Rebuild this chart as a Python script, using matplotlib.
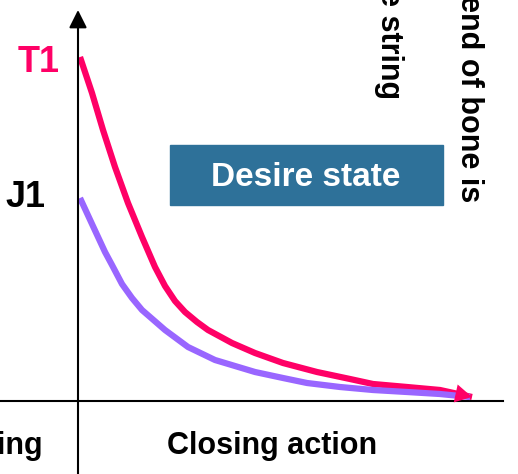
import numpy as np
from matplotlib import pyplot as plt
from matplotlib import font_manager
from matplotlib.patches import Rectangle

# closing action progress (x) and force (y)
t1_x = [2, 14, 25, 37, 50, 64, 77, 87, 97, 107, 119, 130, 154, 177, 205, 239, 272, 295, 329, 362, 394]
t1_y = [344, 308, 271, 234, 198, 164, 134, 115, 100, 89, 79, 71, 58, 48, 38, 29, 22, 17, 14, 11, 4]
j1_x = [2, 14, 27, 34, 44, 54, 64, 87, 110, 137, 177, 205, 229, 262, 295, 329, 362, 392]
j1_y = [203, 177, 149, 136, 117, 103, 91, 71, 54, 41, 29, 23, 18, 14, 11, 9, 7, 4]

pink = '#ff0066'
purple = '#9966ff'
box_col = '#2e7199'

# narrow gothic look if we have it, otherwise plain Liberation Sans a bit smaller
names = {f.name for f in font_manager.fontManager.ttflist}
if 'Liberation Sans Narrow' in names:
    font = ['Liberation Sans Narrow', 'DejaVu Sans']
    big, mid, box_fs = 28, 25, 27
else:
    font = ['Liberation Sans', 'DejaVu Sans']
    big, mid, box_fs = 26, 22, 24

fig = plt.figure(figsize=(5.18, 4.74), dpi=100)
ax = fig.add_axes([0, 0, 1, 1])
ax.set_xlim(-78, 440)
ax.set_ylim(-73, 401)
ax.axis('off')

# axes
ax.plot([-78, 425], [0, 0], color='black', lw=1.5)
ax.annotate('', xy=(0, 391), xytext=(0, -73),
            arrowprops=dict(arrowstyle='-|>,head_length=0.4,head_width=0.2',
                            mutation_scale=27, color='black', lw=1.5,
                            shrinkA=0, shrinkB=0))

# T1 curve with arrow head
ax.plot(t1_x, t1_y, color=pink, lw=4.5, solid_capstyle='butt', solid_joinstyle='round')
ax.annotate('', xy=(t1_x[-1], t1_y[-1]), xytext=(t1_x[-2], t1_y[-2]),
            arrowprops=dict(arrowstyle='-|>,head_length=0.4,head_width=0.22',
                            mutation_scale=30, color=pink, lw=0,
                            shrinkA=0, shrinkB=0))
# J1 curve
ax.plot(j1_x, j1_y, color=purple, lw=4.5, solid_capstyle='butt', solid_joinstyle='round')

# labels
ax.text(-18, 339, 'T1', color=pink, fontsize=big, fontweight='bold',
        family=font, ha='right', va='center')
ax.text(-33, 204, 'J1', color='black', fontsize=big, fontweight='bold',
        family=font, ha='right', va='center')

ax.add_patch(Rectangle((92, 196), 273, 60, color=box_col, zorder=1))
ax.text(228, 224, 'Desire state', color='white', fontsize=box_fs, fontweight='bold',
        family=font, ha='center', va='center', zorder=2)

ax.text(194, -45, 'Closing action', color='black', fontsize=mid, fontweight='bold',
        family=font, ha='center', va='center')
ax.text(-34, -45, 'sing', color='black', fontsize=mid, fontweight='bold',
        family=font, ha='right', va='center')

ax.text(311, 412, 'e string', color='black', fontsize=mid, fontweight='bold',
        family=font, rotation=-90, ha='center', va='top')
ax.text(391, 406, 'end of bone is', color='black', fontsize=mid, fontweight='bold',
        family=font, rotation=-90, ha='center', va='top')

fig.savefig('out.png', dpi=100)
